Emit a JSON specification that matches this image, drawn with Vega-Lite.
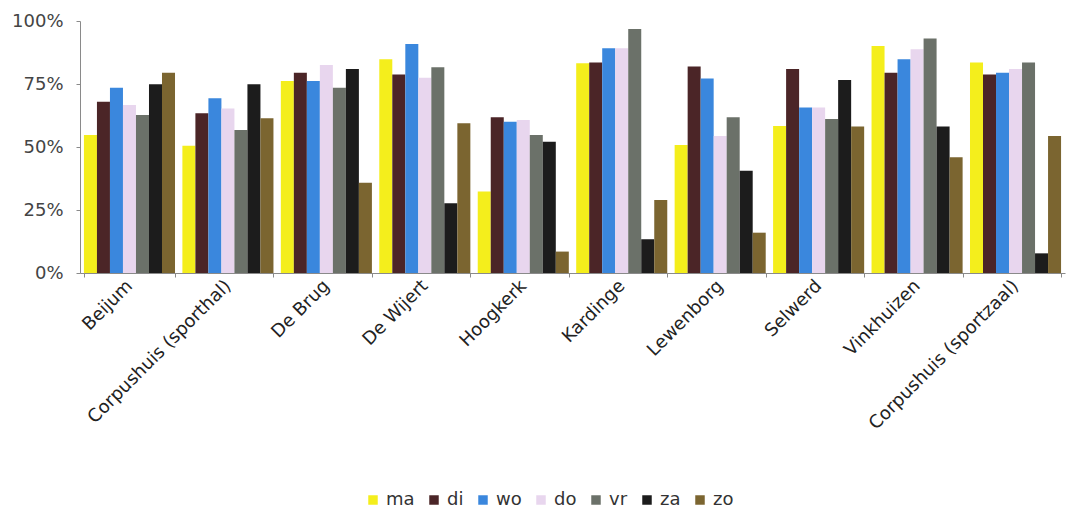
{
  "$schema": "https://vega.github.io/schema/vega-lite/v6.json",
  "width": 985,
  "height": 252,
  "autosize": {"type": "none"},
  "padding": {"left": 80, "top": 21, "right": 4, "bottom": 241},
  "background": "white",
  "data": {"values": [
    {"loc": "Beijum", "dag": "ma", "v": 0.548}, {"loc": "Beijum", "dag": "di", "v": 0.68}, {"loc": "Beijum", "dag": "wo", "v": 0.735}, {"loc": "Beijum", "dag": "do", "v": 0.667}, {"loc": "Beijum", "dag": "vr", "v": 0.627}, {"loc": "Beijum", "dag": "za", "v": 0.749}, {"loc": "Beijum", "dag": "zo", "v": 0.795},
    {"loc": "Corpushuis (sporthal)", "dag": "ma", "v": 0.505}, {"loc": "Corpushuis (sporthal)", "dag": "di", "v": 0.634}, {"loc": "Corpushuis (sporthal)", "dag": "wo", "v": 0.693}, {"loc": "Corpushuis (sporthal)", "dag": "do", "v": 0.653}, {"loc": "Corpushuis (sporthal)", "dag": "vr", "v": 0.567}, {"loc": "Corpushuis (sporthal)", "dag": "za", "v": 0.749}, {"loc": "Corpushuis (sporthal)", "dag": "zo", "v": 0.614},
    {"loc": "De Brug", "dag": "ma", "v": 0.762}, {"loc": "De Brug", "dag": "di", "v": 0.795}, {"loc": "De Brug", "dag": "wo", "v": 0.762}, {"loc": "De Brug", "dag": "do", "v": 0.825}, {"loc": "De Brug", "dag": "vr", "v": 0.735}, {"loc": "De Brug", "dag": "za", "v": 0.81}, {"loc": "De Brug", "dag": "zo", "v": 0.358},
    {"loc": "De Wijert", "dag": "ma", "v": 0.848}, {"loc": "De Wijert", "dag": "di", "v": 0.788}, {"loc": "De Wijert", "dag": "wo", "v": 0.909}, {"loc": "De Wijert", "dag": "do", "v": 0.775}, {"loc": "De Wijert", "dag": "vr", "v": 0.816}, {"loc": "De Wijert", "dag": "za", "v": 0.277}, {"loc": "De Wijert", "dag": "zo", "v": 0.594},
    {"loc": "Hoogkerk", "dag": "ma", "v": 0.323}, {"loc": "Hoogkerk", "dag": "di", "v": 0.618}, {"loc": "Hoogkerk", "dag": "wo", "v": 0.60}, {"loc": "Hoogkerk", "dag": "do", "v": 0.607}, {"loc": "Hoogkerk", "dag": "vr", "v": 0.548}, {"loc": "Hoogkerk", "dag": "za", "v": 0.521}, {"loc": "Hoogkerk", "dag": "zo", "v": 0.085},
    {"loc": "Kardinge", "dag": "ma", "v": 0.832}, {"loc": "Kardinge", "dag": "di", "v": 0.835}, {"loc": "Kardinge", "dag": "wo", "v": 0.892}, {"loc": "Kardinge", "dag": "do", "v": 0.892}, {"loc": "Kardinge", "dag": "vr", "v": 0.968}, {"loc": "Kardinge", "dag": "za", "v": 0.134}, {"loc": "Kardinge", "dag": "zo", "v": 0.29},
    {"loc": "Lewenborg", "dag": "ma", "v": 0.508}, {"loc": "Lewenborg", "dag": "di", "v": 0.819}, {"loc": "Lewenborg", "dag": "wo", "v": 0.772}, {"loc": "Lewenborg", "dag": "do", "v": 0.544}, {"loc": "Lewenborg", "dag": "vr", "v": 0.618}, {"loc": "Lewenborg", "dag": "za", "v": 0.406}, {"loc": "Lewenborg", "dag": "zo", "v": 0.16},
    {"loc": "Selwerd", "dag": "ma", "v": 0.583}, {"loc": "Selwerd", "dag": "di", "v": 0.81}, {"loc": "Selwerd", "dag": "wo", "v": 0.657}, {"loc": "Selwerd", "dag": "do", "v": 0.657}, {"loc": "Selwerd", "dag": "vr", "v": 0.611}, {"loc": "Selwerd", "dag": "za", "v": 0.766}, {"loc": "Selwerd", "dag": "zo", "v": 0.581},
    {"loc": "Vinkhuizen", "dag": "ma", "v": 0.901}, {"loc": "Vinkhuizen", "dag": "di", "v": 0.795}, {"loc": "Vinkhuizen", "dag": "wo", "v": 0.848}, {"loc": "Vinkhuizen", "dag": "do", "v": 0.888}, {"loc": "Vinkhuizen", "dag": "vr", "v": 0.931}, {"loc": "Vinkhuizen", "dag": "za", "v": 0.581}, {"loc": "Vinkhuizen", "dag": "zo", "v": 0.459},
    {"loc": "Corpushuis (sportzaal)", "dag": "ma", "v": 0.835}, {"loc": "Corpushuis (sportzaal)", "dag": "di", "v": 0.788}, {"loc": "Corpushuis (sportzaal)", "dag": "wo", "v": 0.795}, {"loc": "Corpushuis (sportzaal)", "dag": "do", "v": 0.81}, {"loc": "Corpushuis (sportzaal)", "dag": "vr", "v": 0.835}, {"loc": "Corpushuis (sportzaal)", "dag": "za", "v": 0.078}, {"loc": "Corpushuis (sportzaal)", "dag": "zo", "v": 0.544}
  ]},
  "mark": {"type": "bar"},
  "encoding": {
    "x": {
      "field": "loc", "type": "nominal", "sort": null, "title": null,
      "scale": {"paddingInner": 0.075, "paddingOuter": 0.04},
      "axis": {
        "labelAngle": -45, "labelAlign": "right", "labelBaseline": "middle",
        "labelFont": "DejaVu Sans", "labelFontSize": 18, "labelColor": "#222222",
        "labelPadding": 6, "tickBand": "extent", "tickSize": 4,
        "domainColor": "#8a8a8a", "tickColor": "#8a8a8a", "grid": false,
        "labelOverlap": false, "labelLimit": 400
      }
    },
    "xOffset": {
      "field": "dag", "type": "nominal",
      "sort": ["ma", "di", "wo", "do", "vr", "za", "zo"],
      "scale": {"paddingInner": 0, "paddingOuter": 0}
    },
    "y": {
      "field": "v", "type": "quantitative", "title": null,
      "scale": {"domain": [0, 1], "nice": false},
      "axis": {
        "values": [0, 0.25, 0.5, 0.75, 1], "format": ".0%", "grid": false,
        "labelFont": "DejaVu Sans", "labelFontSize": 18, "labelColor": "#444444",
        "tickSize": 4, "labelPadding": 13, "domainColor": "#8a8a8a", "tickColor": "#8a8a8a"
      }
    },
    "color": {
      "field": "dag", "type": "nominal", "title": null,
      "sort": ["ma", "di", "wo", "do", "vr", "za", "zo"],
      "scale": {
        "domain": ["ma", "di", "wo", "do", "vr", "za", "zo"],
        "range": ["#f4ee1c", "#4b2527", "#3a87dd", "#e8d6ee", "#6b7169", "#1c1c1c", "#7b6530"]
      },
      "legend": {
        "orient": "none", "legendX": 284, "legendY": 470, "direction": "horizontal",
        "symbolType": "square", "symbolSize": 90, "symbolStrokeWidth": 0,
        "labelFont": "DejaVu Sans", "labelFontSize": 18, "labelColor": "#333333",
        "columnPadding": 10, "labelOffset": 4
      }
    }
  },
  "config": {"view": {"stroke": null}}
}
